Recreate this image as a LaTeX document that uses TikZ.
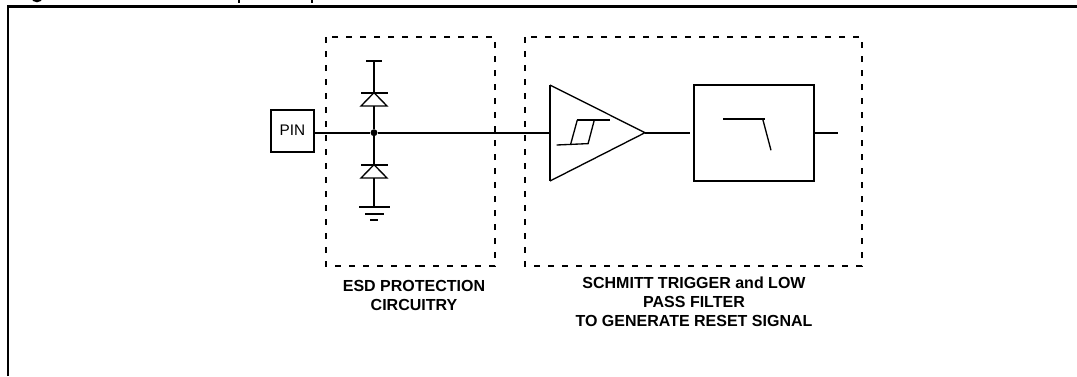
\documentclass[tikz,border=0pt]{standalone}
\usepackage{fontspec}
\setmainfont{Liberation Sans}
\tikzset{
  wire/.style={line width=1.5pt},
  thinw/.style={line width=1pt},
  dbox/.style={line width=1.5pt,dash pattern=on 4.5pt off 6pt},
  lbl/.style={font=\bfseries\fontsize{12pt}{14pt}\selectfont,align=center,inner sep=0pt},
  pinbox/.style={draw,line width=1.5pt,font=\fontsize{11.5pt}{13pt}\selectfont,inner sep=0pt,minimum width=32pt,minimum height=32pt},
  fbox/.style={draw,line width=1.6pt,inner sep=0pt,minimum width=90.5pt,minimum height=72pt},
  dot/.style={circle,fill=black,inner sep=0pt,minimum size=5.2pt}
}
\begin{document}
\begin{tikzpicture}[x=0.75pt,y=-0.75pt]
\useasboundingbox (0,0) rectangle (1077,376);
% clipped remains of the caption above the frame
\begin{scope}
\clip (0,0) rectangle (1077,3);
\draw[line width=1.6pt] (32,-3) .. controls (33,2.5) and (41,2.5) .. (42,-3);
\draw[line width=1.6pt] (238.7,-3) -- (238.7,3);
\draw[line width=1.6pt] (311.7,-3) -- (311.7,3);
\end{scope}
% frame
\coordinate (fa) at (8,376); \coordinate (fb) at (8,6.5); \coordinate (fc) at (1077,6.5);
\draw[line width=1.6pt] (fa) -- (fb) -- (fc);
% dashed boxes
\draw[dbox] (326,37) rectangle (495,266);
\draw[dbox] (525,37) rectangle (862,266);
% pin, junction, blocks
\node[pinbox] (pin) at (292.5,131) {\raisebox{1pt}{PIN}};
\node[dot] (j) at (374,132.7) {};
\coordinate (tl) at (550,85); \coordinate (bl) at (550,181); \coordinate (ap) at (645,132.7);
\coordinate (il) at (550,132.7);
\node[fbox] (flt) at (754,133) {};
\coordinate (e1) at (690,132.7); \coordinate (e2) at (838,132.7);
\draw[wire] (pin.east |- j) -- (j) -- (il);
\draw[wire] (ap) -- (e1);
\draw[wire] (flt.east |- e2) -- (e2);
% amplifier
\draw[line width=1.5pt] (tl) -- (bl);
\draw[thinw] (tl) -- (ap) -- (bl);
% hysteresis
\draw[line width=1.3pt] (577.3,120) -- (610,120);
\draw[thinw] (577.3,120) -- (570.7,144);
\draw[thinw] (594.3,120) -- (588,144);
\draw[thinw] (556.7,145) -- (588.3,143.6);
% filter curve
\draw[line width=1.3pt] (723.3,119) -- (765,119);
\draw[thinw] (762.7,119) -- (771,150.3);
% top diode
\draw[wire] (j) -- (374,106);
\draw[wire] (374,92.7) -- (374,61);
\draw[wire] (366,61) -- (382,61);
\draw[wire] (361,92.7) -- (388,92.7);
\draw[thinw] (374,92.7) -- (361,106) -- (387,106) -- cycle;
% bottom diode
\draw[wire] (j) -- (374,164.7);
\draw[wire] (374,178) -- (374,206.7);
\draw[wire] (361,164.7) -- (388,164.7);
\draw[thinw] (374,164.7) -- (361,178) -- (387,178) -- cycle;
\draw[wire] (359,206.7) -- (390,206.7);
\draw[wire] (365,213.7) -- (384,213.7);
\draw[wire] (370,220) -- (378,220);
% labels
\node[lbl,anchor=north] (l1) at (414,280) {ESD PROTECTION\\CIRCUITRY};
\node[lbl,anchor=north] (l2) at (694,277) {SCHMITT TRIGGER and LOW\\PASS FILTER\\TO GENERATE RESET SIGNAL};
\end{tikzpicture}
\end{document}
